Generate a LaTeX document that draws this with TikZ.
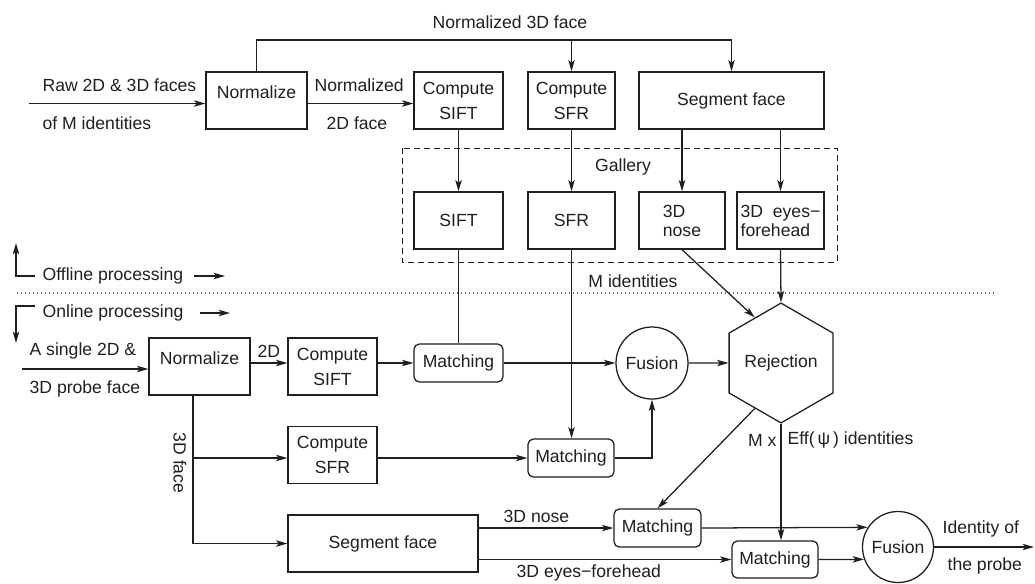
\documentclass[tikz,border=0pt]{standalone}
\usepackage{fontspec}
\setmainfont{Liberation Sans}
\usetikzlibrary{arrows.meta,shapes.geometric,calc}
\begin{document}
\begin{tikzpicture}[x=0.75pt,y=-0.75pt,
  font=\fontsize{13.2}{18.75}\selectfont,
  line width=0.95pt, color=black!88,
  >={Stealth[length=8.5pt,width=4.8pt,inset=2pt]},
  box/.style={draw, rectangle, inner sep=0pt, minimum height=42.75pt, align=center},
  rbox/.style={draw, rectangle, rounded corners=4pt, inner sep=0pt, minimum height=28.5pt},
  fus/.style={draw, circle, inner sep=0pt, minimum size=#1},
  lbl/.style={inner sep=0pt, anchor=west},
  tight/.style={font=\fontsize{13.2}{14.25}\selectfont, align=left},
  topnorm/.style={text height=10pt, text depth=13.4pt},
]
\useasboundingbox (0,0) rectangle (1035,583);

% ---------- offline nodes ----------
\node[box, topnorm, minimum width=75.75pt] (noff) at (256.5,100.5) {Normalize};
\node[box, minimum width=66.75pt] (csoff) at (458.5,100.5) {Compute\\SIFT};
\node[box, minimum width=65.25pt] (cfoff) at (571.5,100.5) {Compute\\SFR};
\node[box, minimum width=138.75pt] (sgoff) at (731.5,100.5) {Segment face};
\node[box, minimum width=66.75pt] (sift) at (458.5,220.5) {SIFT};
\node[box, minimum width=65.25pt] (sfr) at (571.5,220.5) {SFR};
\node[box, tight, minimum width=64.5pt] (nose) at (682,220.5) {3D\\nose};
\node[box, tight, minimum width=65.25pt] (eyes) at (780.5,220.5) {3D\ \ eyes−\\forehead};
\draw[dash pattern=on 4.5pt off 3pt, line width=0.7pt] (402,148) rectangle (837,262);

% ---------- online nodes ----------
\node[box, topnorm, minimum width=75.75pt] (non) at (199.5,366.5) {Normalize};
\node[box, minimum width=66.75pt] (cson) at (332.5,366.5) {Compute\\SIFT};
\node[box, minimum width=66.75pt] (cfon) at (332.5,455) {Compute\\SFR};
\node[box, minimum width=142.5pt] (sgon) at (383,543.5) {Segment face};
\node[rbox, minimum width=66.75pt] (m1) at (458.5,363) {Matching};
\node[rbox, minimum width=64.5pt] (m2) at (571,458) {Matching};
\node[rbox, minimum width=65.25pt] (m3) at (657.5,528) {Matching};
\node[rbox, minimum width=64.5pt, minimum height=27.75pt] (m4) at (775,559.5) {Matching};
\node[fus=54pt] (f1) at (652,363) {Fusion};
\node[fus=53.25pt] (f2) at (898,547) {Fusion};
\node[draw, regular polygon, regular polygon sides=6, shape border rotate=30,
      minimum size=76.5pt, inner sep=0pt] (rej) at (781,363) {Rejection};

% ---------- offline connectors ----------
\coordinate (in1) at (29,103.5);
\draw[->] (in1) -- (in1 -| noff.west);
\draw[->] (noff.east |- in1) -- (in1 -| csoff.west);
\coordinate (topl) at (256.5,40);
\draw[->] (noff.north) -- (topl) -| (sgoff.north);
\draw[->] (cfoff.north |- topl) -- (cfoff.north);
\draw[->] (csoff.south) -- (sift.north);
\draw[->] (cfoff.south) -- (sfr.north);
\draw[->] (sgoff.south -| nose) -- (nose.north);
\draw[->] (sgoff.south -| eyes) -- (eyes.north);

% offline / online markers
\coordinate (ofa) at (35,276); \coordinate (ofb) at (16,276); \coordinate (ofc) at (16,243);
\draw[->] (ofa) -- (ofb) -- (ofc);
\coordinate (ofd) at (194,276); \coordinate (ofe) at (225,276);
\draw[->] (ofd) -- (ofe);
\coordinate (dl) at (17,293); \coordinate (dr) at (997,293);
\draw[dash pattern=on 0.9pt off 2.1pt, line width=0.8pt, black!60] (dl) -- (dr);
\coordinate (ona) at (35,306); \coordinate (onb) at (16,306); \coordinate (onc) at (16,343);
\draw[->] (ona) -- (onb) -- (onc);
\coordinate (ond) at (200,313); \coordinate (one) at (230,313);
\draw[->] (ond) -- (one);

% ---------- online connectors ----------
\coordinate (in2) at (22,369);
\draw[->] (in2) -- (in2 -| non.west);
\draw[->] (non.east |- m1) -- (cson.west |- m1);
\draw[->] (cson.east |- m1) -- (m1.west);
\draw (sift.south) -- (m1.north);
\draw[->] (m1.east) -- (f1.west);
\draw[->] (f1.east) -- (rej.west);
\draw[->] (sfr.south) -- (sfr.south |- m2.north);
\draw[->] (m2.east) -| (f1.south);
\draw[->] (nose.south) -- (rej.120);
\draw[->] (eyes.south) -- (rej.north);
\coordinate (bq) at (193,458);
\draw[->] (non.south -| bq) |- (sgon.west);
\draw[->] (bq) -- (bq -| cfon.west);
\draw[->] (cfon.east |- m2) -- (m2.west);
\draw[->] (sgon.east |- m3) -- (m3.west);
\draw[->] (sgon.east |- m4) -- (m4.west);
\draw[->] (rej.240) -- (m3.north);
\draw[->] (rej.south) -- (rej.south |- m4.north);
\draw[->] (m3.east) -- (f2.147.6);
\draw[->] (m4.east) -- (f2.200.6);
\coordinate (out) at (1034,547);
\draw[->] (f2.east) -- (out);

% ---------- labels ----------
\node (tn3) at (510,22) {Normalized 3D face};
\node[lbl] (tr1) at (42,85) {Raw 2D \& 3D faces};
\node[lbl] (tr2) at (42,123) {of M identities};
\node[lbl] (tn1) at (314,85) {Normalized};
\node[lbl] (tn2) at (326,123) {2D face};
\node (tg) at (623,167) {Gallery};
\node (tmi) at (633,281) {M identities};
\node[lbl] (toff) at (42,276) {Offline processing};
\node[lbl] (ton) at (42,313) {Online processing};
\node[lbl] (ta1) at (29,351) {A single 2D \&};
\node[lbl] (ta2) at (29,389) {3D probe face};
\node[lbl] (t2d) at (257,351) {2D};
\node[rotate=-90, inner sep=0pt] (t3d) at (180,463) {3D face};
\node[lbl] (tnose) at (503,516) {3D nose};
\node[lbl] (teyes) at (516,573) {3D eyes−forehead};
\node[inner sep=0pt, anchor=east] (tmx) at (777,440) {M x};
\node[lbl] (teff) at (787,440) {Eff(\,ψ\,) identities};
\node[lbl] (tid1) at (942,529) {Identity of};
\node[lbl] (tid2) at (947,566) {the probe};
\end{tikzpicture}
\end{document}
